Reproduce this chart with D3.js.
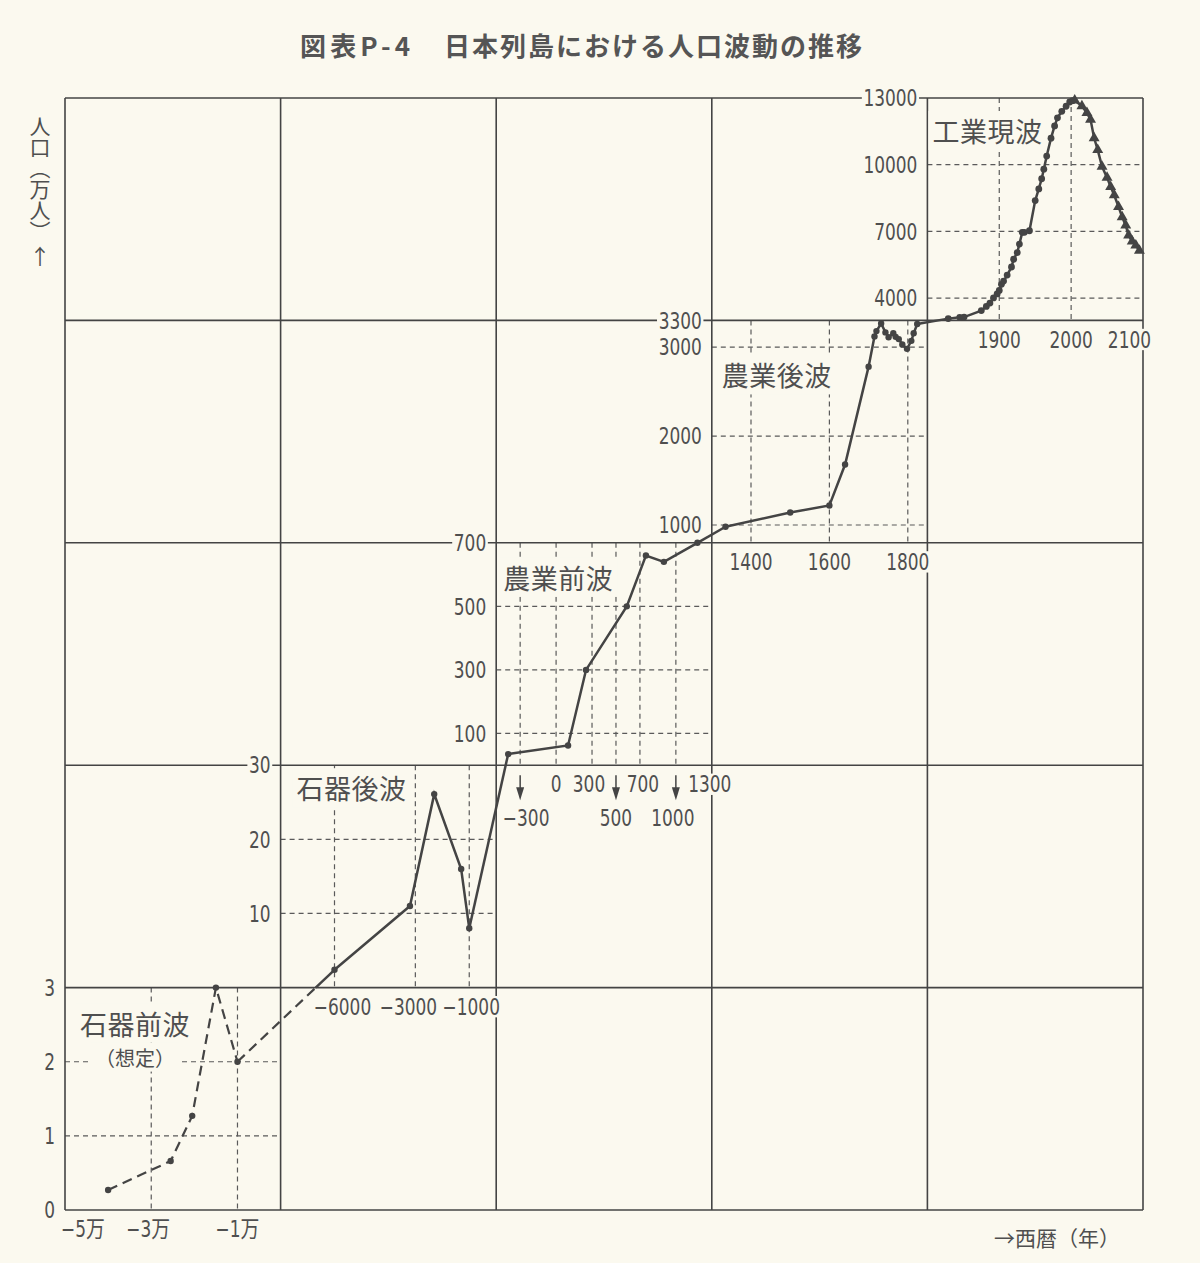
<!DOCTYPE html>
<html lang="ja">
<head>
<meta charset="utf-8">
<script src="https://cdn.jsdelivr.net/npm/d3@7"></script>
<style>
  html, body { margin: 0; padding: 0; background: #fbf9ef; }
  svg { display: block; }
  text { font-family: 'Noto Sans CJK JP', sans-serif; fill: #4f4f4f; }
  text.num { font-family: 'DejaVu Sans Condensed', 'Noto Sans CJK JP', sans-serif; }
</style>
</head>
<body>
<div id="container"></div>
<script>
// ---- data (万人) ----
// 石器前波（想定）
const years1 = [-40000, -25500, -20500, -15000, -10000];
const pop1 = [0.27, 0.66, 1.27, 3.0, 2.0];
// 石器後波
const years2 = [-6000, -3200, -2300, -1300, -1000];
const pop2 = [2.4, 11.0, 26.1, 16.0, 8.0];
// 農業前波
const years3 = [-400, 100, 250, 590, 750, 900, 1180];
const pop3 = [35, 62, 300, 500, 660, 640, 700];
// 農業後波
const years4 = [1335, 1500, 1600, 1640, 1700, 1715, 1720, 1732, 1743, 1751, 1763, 1769, 1777, 1786, 1798, 1809, 1815, 1824];
const pop4 = [980, 1140, 1220, 1680, 2780, 3120, 3180, 3265, 3165, 3110, 3155, 3115, 3090, 3030, 2980, 3070, 3155, 3260];
// 工業現波（実績）
const years5 = [1829, 1845, 1851, 1875, 1882, 1887, 1892, 1897, 1900, 1903, 1906, 1911, 1917, 1920, 1925, 1928,
  1932, 1935, 1942, 1950, 1955, 1959, 1962, 1966, 1972, 1977, 1981, 1987, 1993, 1998, 2002];
const pop5 = [3080, 3140, 3150, 3440, 3630, 3780, 4010, 4190, 4350, 4620, 4770, 5040, 5400, 5750, 6050, 6430,
  6960, 6960, 7030, 8390, 8910, 9370, 9800, 10390, 11195, 11745, 12110, 12400, 12630, 12820, 12880];
// 工業現波（推計）
const years5p = [2005, 2015, 2022, 2027, 2032, 2037, 2043, 2050, 2055, 2060, 2066, 2071, 2076, 2080, 2085, 2090, 2095];
const pop5p = [12890, 12640, 12330, 12030, 11200, 10670, 9920, 9420, 9010, 8630, 8110, 7650, 7270, 6820, 6550, 6370, 6140];

// ---- axes ----
const waveNames = ['石器前波', '石器後波', '農業前波', '農業後波', '工業現波'];
const xDomains = [[-50000, 0], [-8000, 0], [-500, 1300], [1300, 1850], [1800, 2100]];
const yDomains = [[0, 3], [0, 30], [0, 700], [800, 3300], [3000, 13000]];
const xTicks = [[-50000, -30000, -10000], [-6000, -3000, -1000], [0, 300, 700, 1300], [1400, 1600, 1800], [1900, 2000, 2100]];
const xTickLabels1 = ['−5万', '−3万', '−1万'];
const arrowTicks3 = [-300, 500, 1000];
const yTicks = [[0, 1, 2, 3], [10, 20, 30], [100, 300, 500, 700], [1000, 2000, 3000, 3300], [4000, 7000, 10000, 13000]];
const gridX = [[-30000, -10000], [-6000, -3000, -1000], [-300, 0, 300, 500, 700, 1000], [1400, 1600, 1800], [1900, 2000]];
const gridY = [[1, 2], [10, 20], [100, 300, 500], [1000, 2000, 3000], [4000, 7000, 10000]];

// ---- layout ----
const W = 1200, H = 1263;
const BG = '#fbf9ef', INK = '#444', TXT = '#4f4f4f';
const frame = { left: 65, right: 1143, top: 98, bottom: 1210 };
const labelOffsets = [[15, 47], [16, 34], [7, 46], [10, 66], [5, 44]];
// small horizontal nudges of x tick labels, as set in the original
const xLabelNudge = [[0, -3, 0], [8, -7, 2], [0, -3, 3, -2], [0, 0, 0], [0, 0, 0]];
const arrowLabelNudge = [6, 0, -3];
const NUM_SX = 0.82; // horizontal squeeze of numerals

const colX = d3.scaleLinear().domain([0, 5]).range([frame.left, frame.right]);
const rowY = d3.scaleLinear().domain([0, 5]).range([frame.top, frame.bottom]);

const svg = d3.select('#container').append('svg')
  .attr('width', W)
  .attr('height', H);

svg.append('rect').attr('width', W).attr('height', H).attr('fill', BG);

const gDash = svg.append('g');
const gGrid = svg.append('g');
const gText = svg.append('g');
const gData = svg.append('g');

// narrow, tall numerals like the typeset original
function numText(str, x, y, anchor, minX, maxX) {
  const el = gText.append('text')
    .attr('class', 'num tick')
    .attr('font-size', 23)
    .attr('dy', '0.36em')
    .attr('text-anchor', anchor)
    .text(str);
  const w = el.node().getComputedTextLength() * NUM_SX;
  const left = anchor === 'end' ? x - w : anchor === 'middle' ? x - w / 2 : x;
  let shift = 0;
  if (minX != null && left < minX) shift = minX - left;
  if (maxX != null && left + w > maxX) shift = maxX - (left + w);
  el.attr('transform', `translate(${x + shift},${y}) scale(${NUM_SX},1)`);
  return el;
}

const panels = waveNames.map((name, i) => {
  const x0 = colX(i), x1 = colX(i + 1), y0 = rowY(4 - i), y1 = rowY(5 - i);
  return {
    name, x0, x1, y0, y1,
    x: d3.scaleLinear().domain(xDomains[i]).range([x0, x1]),
    y: d3.scaleLinear().domain(yDomains[i]).range([y1, y0])
  };
});

// main grid
d3.range(6).forEach(k => {
  gGrid.append('line')
    .attr('x1', colX(k)).attr('x2', colX(k))
    .attr('y1', frame.top).attr('y2', frame.bottom);
  gGrid.append('line')
    .attr('x1', frame.left).attr('x2', frame.right)
    .attr('y1', rowY(k)).attr('y2', rowY(k));
});
gGrid.selectAll('line').attr('stroke', INK).attr('stroke-width', 1.6);

// dashed grid inside each panel
panels.forEach((p, i) => {
  gridX[i].forEach(t => {
    gDash.append('line')
      .attr('x1', p.x(t)).attr('x2', p.x(t))
      .attr('y1', p.y0).attr('y2', p.y1);
  });
  gridY[i].forEach(t => {
    gDash.append('line')
      .attr('x1', p.x0).attr('x2', p.x1)
      .attr('y1', p.y(t)).attr('y2', p.y(t));
  });
});
gDash.selectAll('line')
  .attr('stroke', '#5a5a5a')
  .attr('stroke-width', 1.2)
  .attr('stroke-dasharray', '5,4');

const numLabel = t => (t < 0 ? '−' + (-t) : String(t));

// axis labels
panels.forEach((p, i) => {
  yTicks[i].forEach(t => numText(numLabel(t), p.x0 - 10, p.y(t), 'end'));
  xTicks[i].forEach((t, j) => {
    numText(i === 0 ? xTickLabels1[j] : numLabel(t),
      p.x(t) + xLabelNudge[i][j], p.y1 + 19, 'middle', 61, 1151);
  });
});

// 農業前波: arrow ticks
const p3 = panels[2];
arrowTicks3.forEach((t, j) => {
  const x = p3.x(t), b = p3.y1;
  gData.append('line')
    .attr('x1', x).attr('x2', x)
    .attr('y1', b + 10).attr('y2', b + 26)
    .attr('stroke', INK).attr('stroke-width', 1.5);
  gData.append('path')
    .attr('d', `M${x - 4},${b + 22}L${x + 4},${b + 22}L${x},${b + 35}Z`)
    .attr('fill', INK);
  numText(numLabel(t), x + arrowLabelNudge[j], b + 53, 'middle');
});

// wave names
panels.forEach((p, i) => {
  gText.append('text')
    .attr('class', 'wave')
    .attr('x', p.x0 + labelOffsets[i][0])
    .attr('y', p.y0 + labelOffsets[i][1])
    .attr('font-size', 27)
    .attr('letter-spacing', 0.5)
    .text(p.name);
});
gText.append('text')
  .attr('class', 'wave')
  .attr('x', panels[0].x0 + 70)
  .attr('y', panels[0].y0 + 78)
  .attr('text-anchor', 'middle')
  .attr('font-size', 20)
  .text('（想定）');

// background knock-outs behind all labels
gText.selectAll('text').each(function () {
  const b = this.getBBox();
  const tick = this.classList.contains('tick');
  const padX = tick ? 2 : 4, padY = tick ? -3 : 0;
  d3.select(this.parentNode).insert('rect', () => this)
    .attr('transform', this.getAttribute('transform'))
    .attr('x', b.x - padX).attr('y', b.y - padY)
    .attr('width', b.width + 2 * padX).attr('height', b.height + 2 * padY)
    .attr('fill', BG);
});

// ---- data lines ----
const rows = (ys, ps) => ys.map((year, j) => ({ year, pop: ps[j] }));
const series = [rows(years1, pop1), rows(years2, pop2), rows(years3, pop3), rows(years4, pop4),
  rows(years5, pop5).concat(rows(years5p, pop5p))];

panels.forEach((p, i) => {
  const line = d3.line().x(d => p.x(d.year)).y(d => p.y(d.pop));
  gData.append('path')
    .datum(series[i])
    .attr('d', line)
    .attr('fill', 'none')
    .attr('stroke', INK)
    .attr('stroke-width', i === 0 ? 2.2 : 2.5)
    .attr('stroke-dasharray', i === 0 ? '10,6' : null);
});

// connect the waves across panels
for (let i = 0; i < 4; i++) {
  const a = panels[i], b = panels[i + 1];
  const da = series[i][series[i].length - 1], db = series[i + 1][0];
  const ax = a.x(da.year), ay = a.y(da.pop), bx = b.x(db.year), by = b.y(db.pop);
  if (i === 0) {
    // dashed while still in the assumed wave's row, solid after
    const yb = a.y0;
    const xb = ax + (bx - ax) * (yb - ay) / (by - ay);
    gData.append('line').attr('x1', ax).attr('y1', ay).attr('x2', xb).attr('y2', yb)
      .attr('stroke', INK).attr('stroke-width', 2.2).attr('stroke-dasharray', '10,6');
    gData.append('line').attr('x1', xb).attr('y1', yb).attr('x2', bx).attr('y2', by)
      .attr('stroke', INK).attr('stroke-width', 2.5);
  } else {
    gData.append('line').attr('x1', ax).attr('y1', ay).attr('x2', bx).attr('y2', by)
      .attr('stroke', INK).attr('stroke-width', 2.5);
  }
}

// markers
panels.forEach((p, i) => {
  const pts = i === 4 ? rows(years5, pop5) : series[i];
  gData.append('g').selectAll('circle')
    .data(pts)
    .join('circle')
    .attr('cx', d => p.x(d.year))
    .attr('cy', d => p.y(d.pop))
    .attr('r', i === 4 ? 3.4 : 3.2)
    .attr('fill', INK);
});
const p5 = panels[4];
gData.append('g').selectAll('path')
  .data(rows(years5p, pop5p))
  .join('path')
  .attr('transform', d => `translate(${p5.x(d.year)},${p5.y(d.pop)})`)
  .attr('d', d3.symbol(d3.symbolTriangle).size(52))
  .attr('fill', INK);

// ---- titles ----
const title = svg.append('g')
  .style('font-size', '26px')
  .style('font-weight', 700);
title.append('text')
  .attr('x', 300).attr('y', 56)
  .attr('textLength', 110).attr('lengthAdjust', 'spacing')
  .style('fill', '#555')
  .text('図表P-4');
title.append('text')
  .attr('x', 444).attr('y', 56)
  .attr('textLength', 418).attr('lengthAdjust', 'spacing')
  .style('fill', '#555')
  .text('日本列島における人口波動の推移');

svg.append('text')
  .attr('x', 40)
  .attr('y', 116)
  .attr('font-size', 21)
  .style('writing-mode', 'vertical-rl')
  .style('fill', TXT)
  .text('人口（万人）');
svg.append('text')
  .attr('x', 40)
  .attr('y', 264)
  .attr('text-anchor', 'middle')
  .attr('font-size', 21)
  .style('fill', TXT)
  .text('↑');

svg.append('text')
  .attr('x', 994)
  .attr('y', 1246)
  .attr('font-size', 21)
  .style('fill', TXT)
  .text('→西暦（年）');
</script>
</body>
</html>
